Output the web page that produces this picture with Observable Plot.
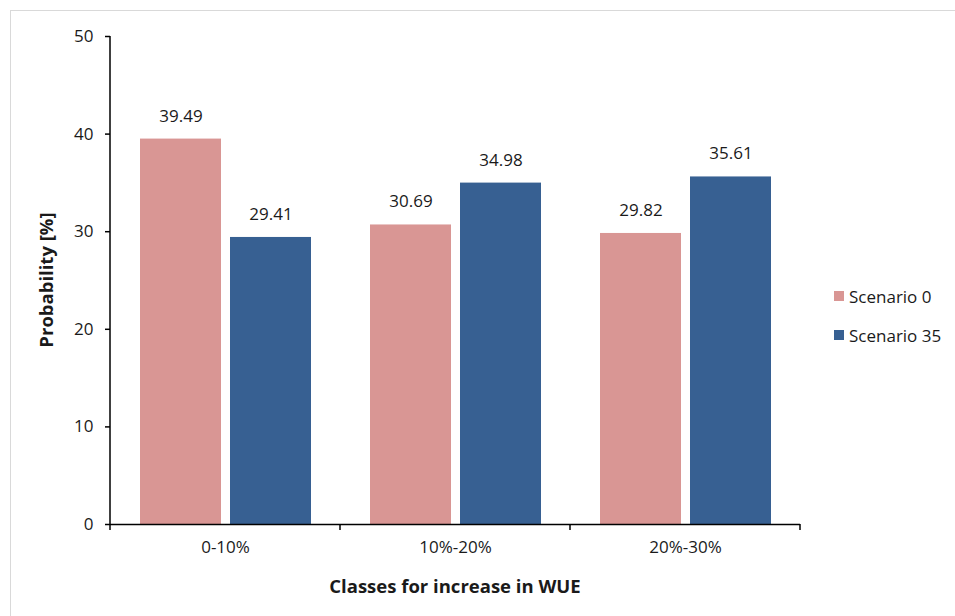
<!DOCTYPE html>
<html>
<head>
<meta charset="utf-8">
<script src="https://cdn.jsdelivr.net/npm/d3@7"></script>
<script src="https://cdn.jsdelivr.net/npm/@observablehq/plot@0.6"></script>
<style>
  html, body { margin: 0; padding: 0; background: #fff; }
  body { width: 955px; height: 616px; position: relative; overflow: hidden; font-family: "Open Sans", sans-serif; }
  #frame { position: absolute; left: 10px; top: 10px; width: 960px; height: 620px; border-top: 1px solid #d9d9d9; border-left: 1px solid #d9d9d9; }
  #chart { position: absolute; left: 0; top: 0; }
  #legend { position: absolute; left: 834px; top: 286px; font-size: 17px; color: #1a1a1a; }
  #legend .item { display: flex; align-items: center; height: 20px; margin-bottom: 19px; }
  #legend .sw { width: 10px; height: 10px; margin-right: 5px; }
</style>
</head>
<body>
<div id="frame"></div>
<div id="chart"></div>
<div id="legend"></div>
<script>
const categories = ["0-10%", "10%-20%", "20%-30%"];
const seriesNames = ["Scenario 0", "Scenario 35"];
const scenario0 = [39.49, 30.69, 29.82];
const scenario35 = [29.41, 34.98, 35.61];
const yTicks = [0, 10, 20, 30, 40, 50];
const colors = ["#D99694", "#376092"];

const data = [];
categories.forEach((c, i) => {
  data.push({cat: c, series: seriesNames[0], value: scenario0[i]});
  data.push({cat: c, series: seriesNames[1], value: scenario35[i]});
});

const plot = Plot.plot({
  width: 955,
  height: 616,
  marginLeft: 110,
  marginRight: 155,
  marginTop: 36,
  marginBottom: 92,
  style: {fontFamily: "'Open Sans', sans-serif", fontSize: "17px", color: "#1a1a1a", background: "transparent"},
  fx: {domain: categories, padding: 0, label: null},
  x: {domain: seriesNames, paddingInner: 0.1, paddingOuter: 0.32, axis: null},
  y: {domain: [0, 50], ticks: yTicks, label: null},
  color: {domain: seriesNames, range: colors},
  marks: [
    Plot.barY(data, {fx: "cat", x: "series", y: "value", fill: "series"}),
    Plot.text(data, {fx: "cat", x: "series", y: "value", text: d => d.value.toFixed(2), dy: -23, fontSize: 17, fill: "#1a1a1a"}),
    Plot.axisY({ticks: yTicks, tickSize: 5, tickPadding: 12, fontSize: 17, stroke: "#000", strokeWidth: 1.5, label: null}),
    Plot.axisFx({anchor: "bottom", tickSize: 0, tickPadding: 16, fontSize: 17, label: null}),
    Plot.ruleY([0], {stroke: "#000", strokeWidth: 1.5})
  ]
});

// boundary ticks, y-axis line and axis titles derived from the scales
const fx = plot.scale("fx");
const y = plot.scale("y");
const svg = d3.select(plot);
const y0 = y.apply(0), yTop = y.apply(50);
const x0 = fx.apply(categories[0]);
const xEnd = fx.apply(categories[categories.length - 1]) + fx.bandwidth;
svg.append("line").attr("x1", x0).attr("x2", x0).attr("y1", yTop).attr("y2", y0 + 1)
  .attr("stroke", "#000").attr("stroke-width", 1.5);
const bounds = categories.map(c => fx.apply(c)).concat([xEnd]);
svg.selectAll("line.bt").data(bounds).join("line").attr("class", "bt")
  .attr("x1", d => d).attr("x2", d => d).attr("y1", y0).attr("y2", y0 + 6)
  .attr("stroke", "#000").attr("stroke-width", 1.5);
svg.append("text").text("Classes for increase in WUE")
  .attr("x", (x0 + xEnd) / 2).attr("y", y0 + 64)
  .attr("text-anchor", "middle").attr("dominant-baseline", "middle")
  .attr("font-weight", "bold").attr("font-size", 18.5).attr("fill", "#1a1a1a");
svg.append("text").text("Probability [%]")
  .attr("transform", `translate(48,${(y0 + yTop) / 2}) rotate(-90)`)
  .attr("text-anchor", "middle").attr("dominant-baseline", "middle")
  .attr("font-weight", "bold").attr("font-size", 18.5).attr("fill", "#1a1a1a");

document.getElementById("chart").appendChild(plot);

const legend = document.getElementById("legend");
seriesNames.forEach((s, i) => {
  const item = document.createElement("div");
  item.className = "item";
  item.innerHTML = `<span class="sw" style="background:${colors[i]}"></span><span>${s}</span>`;
  legend.appendChild(item);
});
</script>
</body>
</html>
